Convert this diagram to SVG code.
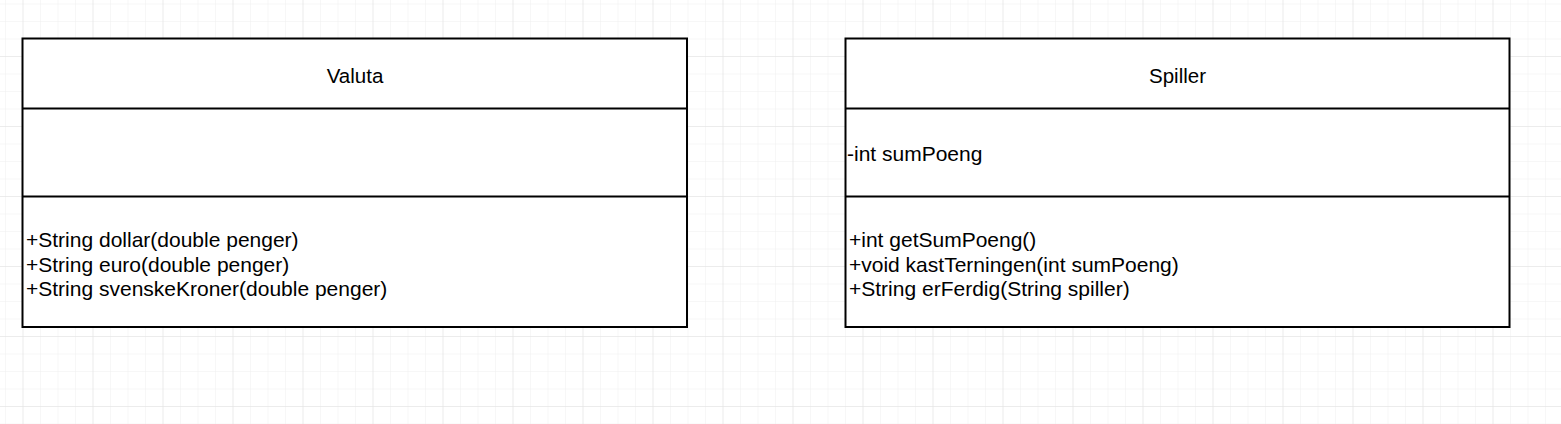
<svg xmlns="http://www.w3.org/2000/svg" width="1561" height="424" viewBox="0 0 1561 424">
  <style>
    .box { fill: #ffffff; stroke: #000000; stroke-width: 2; }
    .div { stroke: #000000; stroke-width: 2; fill: none; }
    .title { font-family: "Liberation Sans", Arial, sans-serif; font-size: 20.5px; fill: #000000; text-anchor: middle; }
    .member { font-family: "Liberation Sans", Arial, sans-serif; font-size: 21px; fill: #000000; }
  </style>
  <defs>
    <pattern id="minor" patternUnits="userSpaceOnUse" x="22.5" y="56" width="17.5" height="17.5">
      <path d="M0 0 V17.5 M0 0 H17.5" stroke="#f0f0f0" stroke-width="1" fill="none"/>
    </pattern>
    <pattern id="major" patternUnits="userSpaceOnUse" x="22.5" y="56" width="70" height="70">
      <path d="M0 0 V70 M0 0 H70" stroke="#e2e2e2" stroke-width="1" fill="none"/>
    </pattern>
  </defs>
  <rect x="0" y="0" width="1561" height="424" fill="#ffffff"/>
  <rect x="0" y="0" width="1561" height="424" fill="url(#minor)"/>
  <rect x="0" y="0" width="1561" height="424" fill="url(#major)"/>

  <g id="connectors"/>

  <g id="valuta">
    <rect class="box" x="22.5" y="38.5" width="664.5" height="288.5"/>
    <line class="div" x1="22.5" y1="108.5" x2="687" y2="108.5"/>
    <line class="div" x1="22.5" y1="196.5" x2="687" y2="196.5"/>
    <text class="title" x="355" y="83">Valuta</text>
    <text class="member" x="26" y="247">+String dollar(double penger)</text>
    <text class="member" x="26" y="271.5">+String euro(double penger)</text>
    <text class="member" x="26" y="296">+String svenskeKroner(double penger)</text>
  </g>

  <g id="spiller">
    <rect class="box" x="845.5" y="38.5" width="664" height="288.5"/>
    <line class="div" x1="845.5" y1="108.5" x2="1509.5" y2="108.5"/>
    <line class="div" x1="845.5" y1="196.5" x2="1509.5" y2="196.5"/>
    <text class="title" x="1177.5" y="83">Spiller</text>
    <text class="member" x="847" y="161">-int sumPoeng</text>
    <text class="member" x="849" y="247">+int getSumPoeng()</text>
    <text class="member" x="849" y="271.5">+void kastTerningen(int sumPoeng)</text>
    <text class="member" x="849" y="296">+String erFerdig(String spiller)</text>
  </g>
</svg>
